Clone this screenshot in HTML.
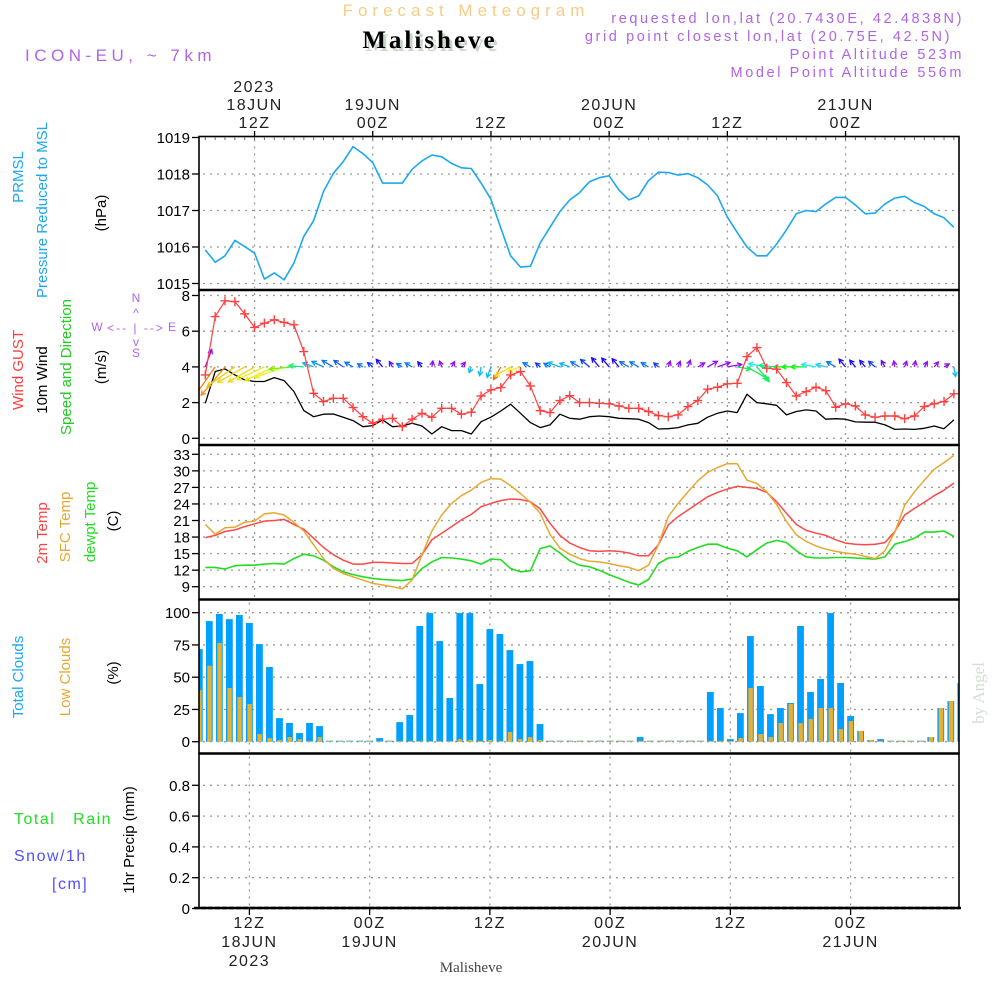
<!DOCTYPE html>
<html><head><meta charset="utf-8"><title>Forecast Meteogram Malisheve</title>
<style>
html,body{margin:0;padding:0;background:#fff;}
svg{display:block;font-family:"Liberation Sans",sans-serif;}
.tk{font-size:15px;fill:#000;}
.ax{font-size:16px;fill:#222;letter-spacing:1.5px;}
</style></head>
<body>
<svg id="chart" width="1000" height="1000" viewBox="0 0 1000 1000" xmlns="http://www.w3.org/2000/svg">
<defs>
<clipPath id="plotclip"><rect x="199" y="136" width="760" height="772"/></clipPath>
</defs>
<text x="466" y="16" text-anchor="middle" font-size="17" fill="#f5cd86" letter-spacing="5">Forecast Meteogram</text>
<text x="433" y="51" text-anchor="middle" font-family="Liberation Serif,serif" font-weight="bold" font-size="25" fill="#c9d6c9" letter-spacing="3">Malisheve</text>
<text x="430" y="48" text-anchor="middle" font-family="Liberation Serif,serif" font-weight="bold" font-size="25" fill="#000" letter-spacing="3">Malisheve</text>
<text x="25" y="61" font-size="17" fill="#b064e6" letter-spacing="4.5">ICON-EU, ~ 7km</text>
<g font-size="14.5" fill="#b064e6" text-anchor="end" letter-spacing="2.6">
<text x="964" y="23">requested lon,lat (20.7430E, 42.4838N)</text>
<text x="952" y="41">grid point closest lon,lat (20.75E, 42.5N)</text>
<text x="964" y="59">Point Altitude 523m</text>
<text x="964" y="77">Model Point Altitude 556m</text>
</g>
<text class="ax" x="254" y="92" text-anchor="middle">2023</text>

<g font-size="15">
<text transform="translate(23,177) rotate(-90)" text-anchor="middle" fill="#1ca8f0">PRMSL</text>
<text transform="translate(47,210) rotate(-90)" text-anchor="middle" fill="#1ca8f0">Pressure Reduced to MSL</text>
<text transform="translate(106,213) rotate(-90)" text-anchor="middle" fill="#000">(hPa)</text>
</g>
<g font-size="15">
<text transform="translate(23,370) rotate(-90)" text-anchor="middle" fill="#ff4040">Wind GUST</text>
<text transform="translate(47,380) rotate(-90)" text-anchor="middle" fill="#000">10m Wind</text>
<text transform="translate(71,367) rotate(-90)" text-anchor="middle" fill="#22cc22">Speed and Direction</text>
<text transform="translate(106,367) rotate(-90)" text-anchor="middle" fill="#000">(m/s)</text>
</g>
<g font-size="12" fill="#b064e6" text-anchor="middle">
<text x="136" y="302">N</text>
<text x="136" y="317">^</text>
<text x="136" y="332" letter-spacing="2">&lt;-- | --&gt;</text>
<text x="136" y="346">v</text>
<text x="136" y="357">S</text>
<text x="97" y="331">W</text>
<text x="172" y="331">E</text>
</g>
<g font-size="15">
<text transform="translate(47,533) rotate(-90)" text-anchor="middle" fill="#ff4040">2m Temp</text>
<text transform="translate(70,527) rotate(-90)" text-anchor="middle" fill="#e8a830">SFC Temp</text>
<text transform="translate(95,522) rotate(-90)" text-anchor="middle" fill="#22dd22">dewpt Temp</text>
<text transform="translate(118,521) rotate(-90)" text-anchor="middle" fill="#000">(C)</text>
</g>
<g font-size="15">
<text transform="translate(23,677) rotate(-90)" text-anchor="middle" fill="#1ca8f0">Total Clouds</text>
<text transform="translate(70,677) rotate(-90)" text-anchor="middle" fill="#e8a830">Low Clouds</text>
<text transform="translate(118,673) rotate(-90)" text-anchor="middle" fill="#000">(%)</text>
</g>
<g font-size="16" letter-spacing="1.5">
<text x="14" y="824" fill="#22dd22" xml:space="preserve">Total   Rain</text>
<text x="14" y="861" fill="#5050ff">Snow/1h</text>
<text x="52" y="889" fill="#5050ff">[cm]</text>
<text transform="translate(134,840) rotate(-90)" text-anchor="middle" fill="#000" font-size="15" letter-spacing="0">1hr Precip (mm)</text>
</g>
<text transform="translate(984,693) rotate(-90)" text-anchor="middle" font-family="Liberation Serif,serif" font-size="17" fill="#d4dfd4">by Angel</text>
<text x="471" y="972" text-anchor="middle" font-family="Liberation Serif,serif" font-size="15" fill="#444">Malisheve</text>

<g id="grid"></g>
<g id="marks" clip-path="url(#plotclip)"></g>
<g id="frames"></g>
<g id="axes"></g>
</svg>
<script>
const pressure = [1015.92,1015.58,1015.76,1016.18,1016.01,1015.83,1015.12,1015.29,1015.10,1015.56,1016.29,1016.72,1017.52,1018.02,1018.34,1018.75,1018.56,1018.31,1017.75,1017.75,1017.75,1018.13,1018.36,1018.52,1018.47,1018.29,1018.17,1018.15,1017.75,1017.31,1016.52,1015.76,1015.45,1015.47,1016.11,1016.54,1016.97,1017.29,1017.49,1017.79,1017.90,1017.95,1017.56,1017.29,1017.40,1017.82,1018.05,1018.04,1017.97,1018.01,1017.90,1017.70,1017.40,1016.82,1016.40,1016.00,1015.76,1015.76,1016.08,1016.47,1016.91,1017.00,1016.97,1017.18,1017.36,1017.36,1017.15,1016.91,1016.93,1017.18,1017.34,1017.39,1017.22,1017.11,1016.91,1016.80,1016.54];
const windGust = [3.55,6.82,7.70,7.66,6.97,6.21,6.45,6.64,6.49,6.36,4.86,2.52,2.06,2.24,2.24,1.72,1.21,0.84,1.07,1.12,0.65,1.07,1.40,1.18,1.68,1.68,1.35,1.46,2.37,2.71,2.84,3.55,3.74,2.93,1.55,1.44,2.11,2.39,2.0,2.0,1.96,1.93,1.81,1.68,1.68,1.50,1.27,1.21,1.31,1.78,2.11,2.75,2.86,3.05,3.08,4.58,5.08,3.93,3.87,3.12,2.37,2.62,2.86,2.67,1.74,1.93,1.81,1.31,1.18,1.25,1.25,1.10,1.25,1.78,1.93,2.06,2.49];
const windSpeed = [1.96,3.74,3.89,3.55,3.27,3.18,3.18,3.40,3.23,2.62,1.55,1.21,1.35,1.36,1.18,0.99,0.65,0.71,1.03,0.65,0.69,0.84,0.69,0.24,0.65,0.43,0.43,0.24,0.93,1.18,1.53,1.91,1.40,0.88,0.60,0.75,1.35,1.12,1.07,1.21,1.25,1.21,1.12,1.10,1.07,0.88,0.52,0.54,0.60,0.75,0.84,1.18,1.40,1.53,1.44,2.47,2.0,1.93,1.85,1.31,1.50,1.59,1.53,1.07,1.10,1.07,0.92,0.90,0.90,0.75,0.50,0.52,0.50,0.56,0.69,0.54,1.03];
const windToDir = [20,215,220,235,240,240,245,245,250,265,275,290,295,300,305,300,300,310,320,330,300,300,320,10,340,30,40,200,190,200,210,240,250,300,310,300,290,290,300,310,320,320,320,300,300,300,310,20,20,20,60,60,70,80,100,120,140,280,275,270,270,270,280,285,300,320,320,320,310,330,350,20,10,30,40,60,170];
const temp2m = [17.9,18.3,19.0,19.3,19.9,20.4,20.9,21.0,21.2,20.3,19.4,17.8,16.1,14.8,13.8,13.1,13.1,13.4,13.4,13.3,13.2,13.2,14.8,17.5,18.7,19.9,21.1,22.1,23.5,24.1,24.6,24.9,24.8,24.4,23.1,20.5,18.3,16.9,16.1,15.5,15.4,15.5,15.4,15.1,14.6,14.6,16.6,20.2,21.7,22.9,24.1,25.3,26.1,26.7,27.2,27.0,26.8,26.1,24.4,22.3,20.3,19.2,18.7,18.3,17.5,16.9,16.7,16.6,16.7,17.0,19.0,22.0,23.2,24.3,25.5,26.5,27.8];
const tempSfc = [20.3,18.5,19.7,19.8,20.7,20.9,22.2,22.4,22.0,20.7,19.1,16.6,14.1,12.3,11.4,10.8,10.2,9.6,9.3,9.0,8.6,10.2,14.8,19.1,22.0,24.1,25.5,26.5,27.9,28.6,28.5,27.3,25.9,24.3,22.3,18.5,16.0,14.9,14.1,13.6,13.5,13.2,12.8,12.5,11.9,12.9,16.6,21.7,24.1,26.2,28.2,29.7,30.6,31.3,31.3,28.3,27.7,26.2,23.9,20.8,18.4,17.2,16.4,15.8,15.4,15.1,14.9,14.5,14.1,15.5,18.9,23.8,26.2,28.3,30.3,31.5,32.8];
const dewpoint = [12.5,12.5,12.2,12.8,12.9,12.9,13.1,13.2,13.1,14.1,14.9,14.6,13.8,12.6,11.7,11.2,10.8,10.5,10.3,10.2,10.1,10.4,12.3,13.5,14.3,14.2,14.0,13.7,13.1,14.0,13.9,12.3,11.7,11.9,15.9,16.4,15.1,13.7,12.9,12.6,12.0,11.2,10.5,9.8,9.3,10.3,13.2,14.2,14.4,15.4,16.1,16.7,16.7,16.0,15.5,14.4,15.7,16.9,17.4,17.0,15.5,14.4,14.2,14.2,14.3,14.3,14.2,14.1,14.0,14.4,16.7,17.2,17.8,18.9,18.9,19.1,18.1];
const totalClouds = [71.8,93.5,99,95,98.2,92,75.7,57.9,18.3,14.5,6.7,14.5,12.1,0,0,0,0,0,2.8,0,15.2,20.7,89.7,99.7,78,33.9,99.7,99.7,44.7,87.3,83.5,71,60.2,62.5,13.7,0,0,0,0,0,0,0,0,0,3.6,0,0,0,0,0,0,38.5,26.1,2,22.2,81.9,43.2,21.4,26.1,30,89.7,38.5,48.6,99.7,45.5,19.9,8.3,1.3,2,0,0,0,0,3.6,26.1,31.5,45.5];
const lowClouds = [40,58.9,76.5,41.6,34.6,29.2,5.9,2.8,1.3,3.6,2,0.5,3.6,0,0,0,0,0,0,0,0.5,0.5,0.5,0.5,0.5,0.5,2,1.3,0.5,1.3,0.5,7.5,2,3.6,1.3,0,0,0,0,0,0,0,0,0,0,0,0,0,0,0,0,0,0,0.5,2.8,41.6,5.9,3.6,14.5,29.2,14.5,17.6,26.1,26.1,9.8,16,8.3,1.3,0.5,0,0,0,0,3.6,26.1,31.5,17.6];
const precip = [];
const majorHours = [5,17,29,41,53,65];
const majorTopLabels = [["18JUN","12Z"],["19JUN","00Z"],["","12Z"],["20JUN","00Z"],["","12Z"],["21JUN","00Z"]];
const majorBotLabels = [["12Z","18JUN","2023"],["00Z","19JUN",""],["12Z","",""],["00Z","20JUN",""],["12Z","",""],["00Z","21JUN",""]];
const pressureTicks = [1015,1016,1017,1018,1019];
const windTicks = [0,2,4,6,8];
const tempTicks = [9,12,15,18,21,24,27,30,33];
const cloudTicks = [0,25,50,75,100];
const precipTicks = [0,0.2,0.4,0.6,0.8];

const X0 = 199, X1 = 959;
const xTop = h => 205.3 + 9.85 * h;
const xBot = h => 199.3 + 10.02 * h;
const lin = (d0, d1, r0, r1) => v => r0 + (v - d0) * (r1 - r0) / (d1 - d0);
const yP = lin(1015, 1019, 283.5, 137.5);
const yW = lin(0, 8, 438.3, 295.5);
const yT = lin(9, 33, 586.7, 454.3);
const yC = lin(0, 100, 741.7, 612.7);
const yR = lin(0, 0.8, 908.5, 785.3);

const NS = "http://www.w3.org/2000/svg";
const grid = document.getElementById('grid');
const marks = document.getElementById('marks');
const frames = document.getElementById('frames');
const axes = document.getElementById('axes');
function mk(tag, attrs, parent) {
  const e = document.createElementNS(NS, tag);
  for (const k in attrs) e.setAttribute(k, attrs[k]);
  parent.appendChild(e);
  return e;
}
const dotted = {stroke:'#9a9a9a','stroke-width':1.3,'stroke-dasharray':'2 5'};

const panels = [
  {name:'pressure', top:136.5, bot:290, ticks:pressureTicks, y:yP, xs:xTop, fmt:v=>String(v)},
  {name:'wind', top:290, bot:445, ticks:windTicks, y:yW, xs:xTop, fmt:v=>String(v)},
  {name:'temperature', top:445, bot:599.5, ticks:tempTicks, y:yT, xs:xTop, fmt:v=>String(v)},
  {name:'clouds', top:599.5, bot:753.5, ticks:cloudTicks, y:yC, xs:xBot, fmt:v=>String(v)},
  {name:'precip', top:753.5, bot:908, ticks:precipTicks, y:yR, xs:xBot, fmt:v=>v===0?'0':v.toFixed(1)}
];
panels.forEach(p => {
  p.ticks.forEach(v => {
    const y = p.y(v);
    if (y > p.top + 4) {
      const g = mk('line', Object.assign({x1:X0+4, x2:X1-2, y1:y, y2:y}, dotted), grid);
      
      
    }
    const t = mk('line', {x1:X0-7, x2:X0, y1:y, y2:y, stroke:'#000','stroke-width':1.3}, axes);
    
    
    const lb = mk('text', {x:X0-9, y:y+5.5, 'text-anchor':'end', class:'tk'}, axes);
    lb.textContent = p.fmt(v);
    
    
  });
  majorHours.forEach(h => {
    const x = p.xs(h);
    const g = mk('line', Object.assign({x1:x, x2:x, y1:p.top+3, y2:p.bot-2}, dotted), grid);
    
    
  });
  const f = mk('rect', {x:X0, y:p.top, width:X1-X0, height:p.bot-p.top, fill:'none', stroke:'#000','stroke-width':1.6}, frames);
  
  
  const sep = mk('line', {x1:X0, x2:X1, y1:p.bot, y2:p.bot, stroke:'#000','stroke-width':2.6}, frames);
  
  
});
const bl = mk('line', {x1:X0-5, x2:X1+2, y1:908, y2:908, stroke:'#000','stroke-width':2.4,'stroke-dasharray':'5 2'}, frames);



for (let h = 0; h < 77; h++) {
  const x = xTop(h);
  const t = mk('line', {x1:x, x2:x, y1:137, y2:140, stroke:'#666','stroke-width':1}, axes);
  
  
}
majorHours.forEach((h, i) => {
  const x = xTop(h);
  const t = mk('line', {x1:x, x2:x, y1:131, y2:137, stroke:'#000','stroke-width':1.3}, axes);
  
  
  majorTopLabels[i].forEach((s, j) => {
    if (!s) return;
    const lb = mk('text', {x:x, y:110 + j*18, 'text-anchor':'middle', class:'ax'}, axes);
    lb.textContent = s;
    
    
  });
  const xb = xBot(h);
  const tb = mk('line', {x1:xb, x2:xb, y1:908, y2:915, stroke:'#000','stroke-width':1.3}, axes);
  
  
  majorBotLabels[i].forEach((s, j) => {
    if (!s) return;
    const lb = mk('text', {x:xb, y:928 + j*19, 'text-anchor':'middle', class:'ax'}, axes);
    lb.textContent = s;
    
    
  });
});

function polyline(vals, xs, ys, color, name, w) {
  const pts = vals.map((v, i) => xs(i).toFixed(1) + ',' + ys(v).toFixed(1)).join(' ');
  const pl = mk('polyline', {points:pts, fill:'none', stroke:color, 'stroke-width':w||1.5, 'stroke-linejoin':'round'}, marks);
  
  
  return pl;
}

totalClouds.forEach((v, i) => {
  const x = xBot(i), y = yC(v), h = Math.max(1, yC(0) - y);
  const r = mk('rect', {x:x-3.4, y:yC(0)-h, width:6.8, height:h, fill:'#00a0ff'}, marks);
  
  
});
lowClouds.forEach((v, i) => {
  const x = xBot(i), y = yC(v), h = Math.max(0.8, yC(0) - y);
  const r = mk('rect', {x:x-2.0, y:yC(0)-h, width:4.4, height:h, fill:'#e8b030'}, marks);
  
  
});
precip.forEach((v, i) => {
  const r = mk('rect', {x:xBot(i)-3, y:yR(v), width:6, height:yR(0)-yR(v), fill:'#22dd22'}, marks);
  
  
});

polyline(pressure, xTop, yP, '#1ca8f0', 'pressure-line', 1.6);
polyline(dewpoint, xTop, yT, '#22dd22', 'dewpoint-line', 1.6);
polyline(temp2m, xTop, yT, '#ff4848', 'temp-2m-line', 1.5);
polyline(tempSfc, xTop, yT, '#e8a830', 'temp-sfc-line', 1.5);
polyline(windSpeed, xTop, yW, '#000', 'wind-speed-line', 1.3);

function dirColor(to) {
  let hue;
  if (to >= 210 && to < 260) hue = 30 + (to - 215) * 0.9;
  else if (to >= 260 && to < 280) hue = 62 + (to - 260) * 5.9;
  else if (to >= 280 && to <= 340) hue = 180 + (to - 280) * 1.6;
  else if (to > 340 || to < 100) hue = 275;
  else if (to >= 100 && to < 160) hue = 140;
  else hue = 195;
  return 'hsl(' + hue.toFixed(0) + ',90%,50%)';
}
windToDir.forEach((d, i) => {
  const x = xTop(i), y = yW(4);
  const len = Math.max(6, windSpeed[i] * 9.5);
  const a = d * Math.PI / 180;
  const dx = Math.sin(a), dy = -Math.cos(a);
  const x2 = x + dx * len, y2 = y + dy * len;
  const c = dirColor(d);
  const g = mk('g', {stroke:c, 'stroke-width':1.3, fill:'none'}, marks);
  
  
  mk('line', {x1:x, y1:y, x2:x2, y2:y2}, g);
  const hl = 5, sp = 0.5;
  const b1 = a + Math.PI - sp, b2 = a + Math.PI + sp;
  mk('polyline', {points:(x2+Math.sin(b1)*hl).toFixed(1)+','+(y2-Math.cos(b1)*hl).toFixed(1)+' '+x2.toFixed(1)+','+y2.toFixed(1)+' '+(x2+Math.sin(b2)*hl).toFixed(1)+','+(y2-Math.cos(b2)*hl).toFixed(1)}, g);
});

polyline(windGust, xTop, yW, '#ff4040', 'wind-gust-line', 1.2);
windGust.forEach((v, i) => {
  const x = xTop(i), y = yW(v);
  const p = mk('path', {d:'M'+(x-4.5)+' '+y+'h9M'+x+' '+(y-4.5)+'v9', stroke:'#ff4040','stroke-width':1.4}, marks);
  
  
});
</script>
</body></html>
